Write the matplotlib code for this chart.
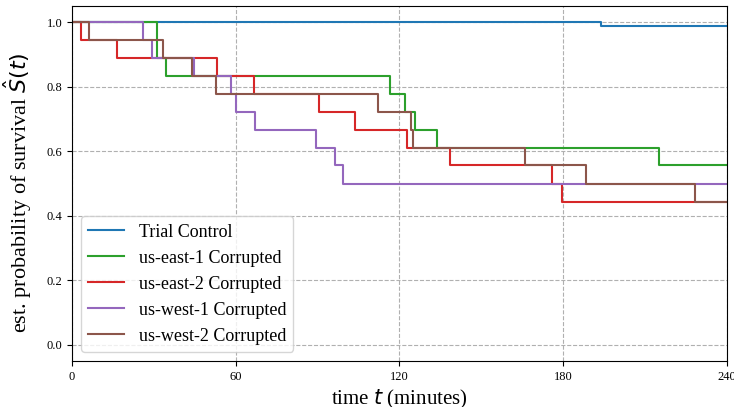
import numpy as np
import matplotlib
matplotlib.use("Agg")
import matplotlib.pyplot as plt

plt.rcParams["font.family"] = ["Liberation Serif", "DejaVu Serif"]
plt.rcParams["mathtext.fontset"] = "dejavusans"

T_END = 240

# step curves: event times (minutes) and survival right after each one
control_t = [0, 194.0]
control_s = [1.0, 0.988]

east1_t = [0, 31.3, 34.4, 116.5, 122.0, 125.7, 133.9, 215.2]
east1_s = [1.0, 0.889, 0.833, 0.778, 0.722, 0.667, 0.611, 0.556]

east2_t = [0, 3.3, 16.6, 53.3, 66.9, 90.6, 103.7, 122.9, 138.5, 176.0, 179.7]
east2_s = [1.0, 0.944, 0.889, 0.833, 0.778, 0.722, 0.667, 0.611, 0.556, 0.5, 0.444]

west1_t = [0, 26.1, 29.2, 44.9, 58.3, 60.1, 67.0, 89.4, 96.4, 99.4]
west1_s = [1.0, 0.944, 0.889, 0.833, 0.778, 0.722, 0.667, 0.611, 0.556, 0.5]

west2_t = [0, 6.3, 33.5, 43.9, 52.8, 112.3, 124.4, 125.0, 166.0, 188.3, 228.5]
west2_s = [1.0, 0.944, 0.889, 0.833, 0.778, 0.722, 0.667, 0.611, 0.556, 0.5, 0.444]

series = [
    ("Trial Control", control_t, control_s, "tab:blue"),
    ("us-east-1 Corrupted", east1_t, east1_s, "tab:green"),
    ("us-east-2 Corrupted", east2_t, east2_s, "tab:red"),
    ("us-west-1 Corrupted", west1_t, west1_s, "tab:purple"),
    ("us-west-2 Corrupted", west2_t, west2_s, "tab:brown"),
]

fig = plt.figure(figsize=(7.34, 4.07), dpi=100)
ax = fig.add_axes([0.098, 0.113, 0.892, 0.872])

for label, t, s, color in series:
    tt = np.append(t, T_END)
    ss = np.append(s, s[-1])
    ax.step(tt, ss, where="post", color=color, linewidth=1.5, label=label)

ax.set_xlim(0, T_END)
ax.set_ylim(-0.05, 1.05)
ax.set_xticks([0, 60, 120, 180, 240])
ax.set_yticks([0.0, 0.2, 0.4, 0.6, 0.8, 1.0])
ax.tick_params(labelsize=9)
ax.grid(True, linestyle="--", color="#b0b0b0", linewidth=0.8)

ax.set_xlabel("time $t$ (minutes)", fontsize=15)
ax.set_ylabel(r"est. probability of survival $\hat{S}(t)$", fontsize=16)
ax.yaxis.set_label_coords(-0.058, 0.475)
ax.legend(loc="lower left", fontsize=13)

plt.savefig("out.png", dpi=100)
plt.close(fig)
